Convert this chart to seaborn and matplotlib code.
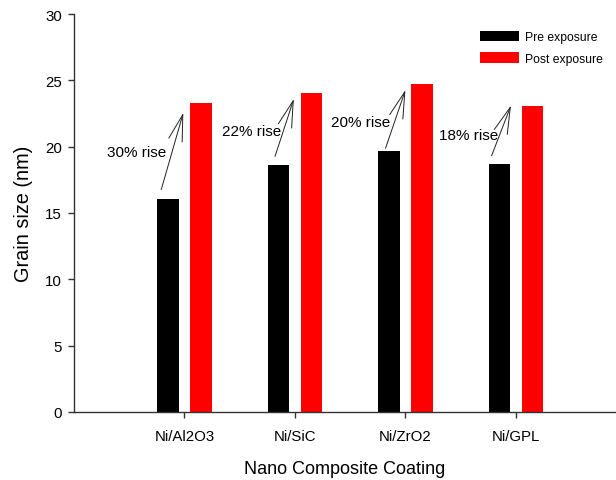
import matplotlib
matplotlib.use("Agg")
import matplotlib.pyplot as plt
import seaborn as sns
import pandas as pd

# Grain size of Ni-based nano composite coatings before and after exposure
coatings = ["Ni/Al2O3", "Ni/SiC", "Ni/ZrO2", "Ni/GPL"]
pre_exposure = [16.05, 18.6, 19.7, 18.7]
post_exposure = [23.3, 24.05, 24.75, 23.05]
rise_labels = ["30% rise", "22% rise", "20% rise", "18% rise"]
series_names = ["Pre exposure", "Post exposure"]
y_ticks = [0, 5, 10, 15, 20, 25, 30]

df = pd.DataFrame({
    "coating": coatings * 2,
    "grain": pre_exposure + post_exposure,
    "state": [series_names[0]] * len(coatings) + [series_names[1]] * len(coatings),
})

sns.set_theme(style="ticks")
plt.rcParams["font.family"] = ["Liberation Sans", "DejaVu Sans"]
plt.rcParams["text.color"] = "black"
plt.rcParams["axes.labelcolor"] = "black"
plt.rcParams["xtick.labelcolor"] = "black"
plt.rcParams["ytick.labelcolor"] = "black"

fig = plt.figure(figsize=(6.16, 4.81), dpi=100)
ax = fig.add_axes([0.120, 0.1414, 0.879, 0.8274])

sns.barplot(data=df, x="coating", y="grain", hue="state", order=coatings,
            hue_order=series_names, palette=["#000000", "#ff0000"],
            width=0.6, gap=0.35, saturation=1, linewidth=0, ax=ax)

ax.set_xlim(-1.0, 3.9)
ax.set_ylim(0, 30)
ax.set_yticks(y_ticks)
ax.set_yticklabels([str(t) for t in y_ticks])

ax.set_xlabel("Nano Composite Coating", fontsize=13, labelpad=12)
ax.set_ylabel("Grain size (nm)", fontsize=14.3, labelpad=9)
ax.tick_params(axis="both", labelsize=10.8, length=4.5, width=1.0,
               color="#333333", direction="out", pad=4)
ax.tick_params(axis="x", pad=8)

for side in ("top", "right"):
    ax.spines[side].set_visible(False)
for side in ("left", "bottom"):
    ax.spines[side].set_linewidth(1.0)
    ax.spines[side].set_color("#333333")

# Arrows from the pre-exposure bar to the post-exposure bar with the rise
arrow_tail = [(-0.21, 16.76), (0.82, 19.27), (1.82, 19.88), (2.78, 19.32)]
arrow_tip = [(-0.01, 22.55), (0.99, 23.6), (2.0, 24.27), (2.955, 23.1)]
label_pos = [(-0.43, 19.6), (0.61, 21.18), (1.595, 21.86), (2.57, 20.88)]
for tail, tip, lab, pos in zip(arrow_tail, arrow_tip, rise_labels, label_pos):
    ax.annotate("", xy=tip, xytext=tail,
                arrowprops=dict(arrowstyle="->,head_length=1.9,head_width=0.5",
                                color="#222222", lw=0.7, shrinkA=0, shrinkB=0,
                                mutation_scale=10))
    ax.text(pos[0], pos[1], lab, fontsize=11, ha="center", va="center")

leg = ax.legend(loc="upper left", bbox_to_anchor=(0.741, 0.97), frameon=False,
                fontsize=8.7, handlelength=3.2, handleheight=0.95,
                labelspacing=0.75, handletextpad=0.5, borderaxespad=0)

fig.savefig("out.png", dpi=100)
